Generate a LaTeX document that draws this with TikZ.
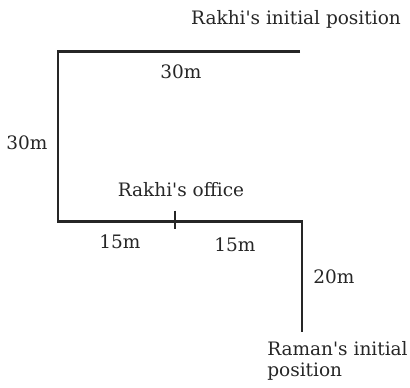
\documentclass[tikz,border=0pt]{standalone}
\usepackage{fontspec}
\setmainfont{DejaVu Serif}

\begin{document}
\begin{tikzpicture}[x=1pt,y=-1pt,line width=2.6pt,
  lbl/.style={font=\fontsize{18.5}{21.5}\selectfont,inner sep=0pt,text=black!85}]
  \useasboundingbox (0,0) rectangle (410,388);
  % corners of the route
  \coordinate (rakhistart) at (300,51.5);
  \coordinate (nw) at (58,51.5);
  \coordinate (sw) at (58,221.5);
  \coordinate (office) at (174.5,221.5);
  \coordinate (se) at (302,221.5);
  \coordinate (ramanstart) at (302,332);
  \draw[black!85] (rakhistart) -- (nw) -- (sw) -- (se) -- (ramanstart);
  % office mark
  \draw[black!85,line width=2pt] ([yshift=11pt]office) -- ([yshift=-7pt]office);
  % labels
  \node[lbl] (rakhilbl) at (296,19) {Rakhi\textquotesingle s initial position};
  \node[lbl] (topdist) at (181,72) {30m};
  \node[lbl] (leftdist) at (27,143) {30m};
  \node[lbl] (officelbl) at (181,190) {Rakhi\textquotesingle s office};
  \node[lbl] (bldist) at (120,242) {15m};
  \node[lbl] (brdist) at (235,245) {15m};
  \node[lbl] (rightdist) at (334,277) {20m};
  \node[lbl,anchor=north west,align=left] (ramanlbl) at (266,340) {Raman\textquotesingle s initial\\position};
\end{tikzpicture}
\end{document}
